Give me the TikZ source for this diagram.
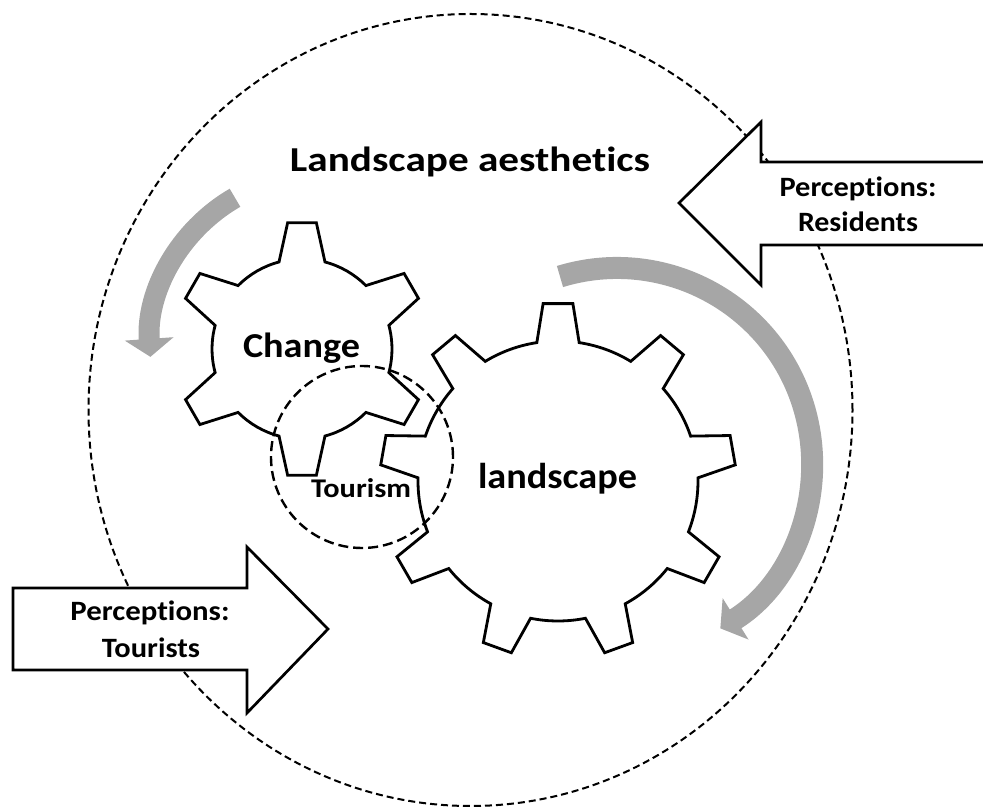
\documentclass[tikz,border=0pt]{standalone}
\usepackage{fontspec}
\setmainfont{Carlito}[Ligatures={NoCommon}]
\usepackage{graphicx}
\usetikzlibrary{arrows.meta}
\definecolor{arrowgray}{RGB}{166,166,166}
\newcommand{\wtxt}[3]{{\fontsize{#1}{#1}\selectfont\bfseries\resizebox{#2}{\height}{#3}}}
\begin{document}
\begin{tikzpicture}[x=1pt,y=1pt,
  gearline/.style={draw=black, line width=2.8pt, fill=white, line join=miter},
  bigdash/.style={draw=black, line width=2pt, dash pattern=on 7pt off 4pt},
  tourdash/.style={draw=black, line width=2.4pt, dash pattern=on 10pt off 5pt},
  grayarrow/.style={draw=arrowgray, -{Triangle[width=48pt,length=18pt]}},
  bigarrow/.style={draw=black, fill=white, line width=2.7pt, line join=miter},
  lbl/.style={inner sep=0pt, anchor=base}]
\useasboundingbox (0,0) rectangle (983,809);
\clip (0,0) rectangle (983,809);
% outer dashed circle
\draw[bigdash] (470.5,399) ellipse [x radius=382, y radius=396];
% gray rotation arrows
\draw[grayarrow, line width=21pt] (320,464) ++(120:170) arc[start angle=120, end angle=184, radius=170];
\draw[grayarrow, line width=22pt] (617,346) ++(107:195) arc[start angle=107, end angle=-58, radius=195];
% Change gear
\begin{scope}[shift={(302,460)}]
\filldraw[gearline] ({90-14.8}:90) \foreach \i in {0,...,5}{
  -- ({90+60*\i-14.8}:90) -- ({90+60*\i-6.5}:127) -- ({90+60*\i+6.5}:127) -- ({90+60*\i+14.8}:90)
  arc[start angle={90+60*\i+14.8}, end angle={90+60*\i+60-14.8}, radius=90]} -- cycle;
\end{scope}
% landscape gear
\begin{scope}[shift={(558,328)}]
\filldraw[gearline] ({90-8.7}:140) \foreach \i in {0,...,8}{
  -- ({90+40*\i-8.7}:140) -- ({90+40*\i-4.8}:178) -- ({90+40*\i+4.8}:178) -- ({90+40*\i+8.7}:140)
  arc[start angle={90+40*\i+8.7}, end angle={90+40*\i+40-8.7}, radius=140]} -- cycle;
\end{scope}
% tourism circle
\draw[tourdash] (362,352) circle [radius=91];
% perception arrows
\filldraw[bigarrow] (995,647) -- (761,647) -- (761,687) -- (679,606) -- (761,524) -- (761,564) -- (995,564) -- cycle;
\filldraw[bigarrow] (13,221) -- (247,221) -- (247,262) -- (328,180) -- (247,96) -- (247,139) -- (13,139) -- cycle;
% texts
\node[lbl] (title) at (470,637) {\wtxt{35}{360pt}{Landscape aesthetics}};
\node[lbl] (change) at (301.5,451) {\wtxt{35}{117pt}{Change}};
\node[lbl] (land) at (557.5,320) {\wtxt{36}{159pt}{landscape}};
\node[lbl] (tour) at (361,311) {\wtxt{27}{100pt}{Tourism}};
\node[lbl] (resP) at (858,612) {\wtxt{28}{157pt}{Perceptions:}};
\node[lbl] (resR) at (858,577) {\wtxt{28}{120pt}{Residents}};
\node[lbl] (touP) at (150,188) {\wtxt{28}{159pt}{Perceptions:}};
\node[lbl] (touT) at (151,151) {\wtxt{28}{98pt}{Tourists}};
\end{tikzpicture}
\end{document}
